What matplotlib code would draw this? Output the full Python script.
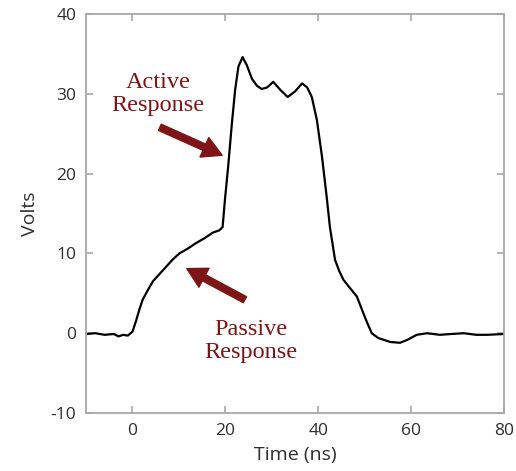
import matplotlib
matplotlib.use("Agg")
import matplotlib.pyplot as plt

time_ns = [-10, -8, -6, -4, -3, -2, -1, 0, 0.8, 1.5, 2.2, 3.3, 4.4, 5.8, 7.2, 8.6, 10.1, 11.9,
           13.7, 15.5, 17.3, 18.7, 19.4, 19.9, 20.6, 21.4, 22.1, 22.8, 23.7, 24.6, 25.7, 26.8,
           27.8, 29, 30.3, 31.8, 33.4, 35, 36.5, 37.6, 38.6, 39.7, 40.8, 41.8, 42.5, 43.6, 44.5,
           45.4, 46.9, 48.3, 49.7, 50.6, 51.5, 52.9, 55.5, 57.6, 59.1, 61.2, 63.4, 66.2, 68.5,
           71.3, 74, 76.3, 80]
volts = [-0.1, 0, -0.2, -0.1, -0.4, -0.2, -0.3, 0.2, 1.6, 3.0, 4.2, 5.4, 6.5, 7.4, 8.3, 9.2, 10.0,
         10.6, 11.3, 11.9, 12.6, 12.9, 13.3, 16.7, 20.9, 26.3, 30.5, 33.4, 34.6, 33.6, 31.9, 31.0,
         30.6, 30.8, 31.5, 30.5, 29.6, 30.3, 31.3, 30.8, 29.6, 26.7, 22.1, 17.1, 13.3, 9.2, 7.8,
         6.7, 5.6, 4.6, 2.5, 1.2, 0, -0.6, -1.1, -1.2, -0.85, -0.2, 0, -0.2, -0.1, 0, -0.2, -0.2,
         -0.1]

x_ticks = [0, 20, 40, 60, 80]
y_ticks = [-10, 0, 10, 20, 30, 40]

RED = "#7d1517"


def main():
    plt.rcParams["axes.unicode_minus"] = False
    fig = plt.figure(figsize=(5.16, 4.71), dpi=100)
    ax = fig.add_axes([0.1667, 0.1231, 0.8103, 0.8472])

    ax.plot(time_ns, volts, color="black", lw=1.6)

    ax.set_xlim(-10, 80)
    ax.set_ylim(-10, 40)
    ax.set_xticks(x_ticks)
    ax.set_yticks(y_ticks)

    for s in ax.spines.values():
        s.set_color("#a8a8a8")
        s.set_linewidth(1.3)
    ax.tick_params(direction="in", length=5, width=1.2, color="#a8a8a8",
                   top=True, right=True, labelsize=12.5, labelcolor="#2e2e2e", pad=7)
    for lbl in ax.get_xticklabels() + ax.get_yticklabels():
        lbl.set_family("Open Sans")

    ax.set_xlabel("Time (ns)", fontsize=14, family="Open Sans", color="#2e2e2e", labelpad=5)
    ax.set_ylabel("Volts", fontsize=14, family="Open Sans", color="#2e2e2e", labelpad=8)

    arrow = dict(arrowstyle="simple,head_width=1.1,head_length=1.0,tail_width=0.35",
                 color=RED, mutation_scale=14, shrinkA=0, shrinkB=0)
    ax.annotate("", xy=(19.3, 22.3), xytext=(5.9, 25.8), arrowprops=arrow)
    ax.annotate("", xy=(11.7, 8.1), xytext=(24.2, 4.2), arrowprops=arrow)

    ax.text(5.5, 30.0, "Active\nResponse", color=RED, fontsize=17.5, family="Liberation Serif",
            ha="center", va="center", linespacing=1.1)
    ax.text(25.5, -1.0, "Passive\nResponse", color=RED, fontsize=17.5, family="Liberation Serif",
            ha="center", va="center", linespacing=1.1)

    fig.savefig("out.png", dpi=100)


if __name__ == "__main__":
    main()
